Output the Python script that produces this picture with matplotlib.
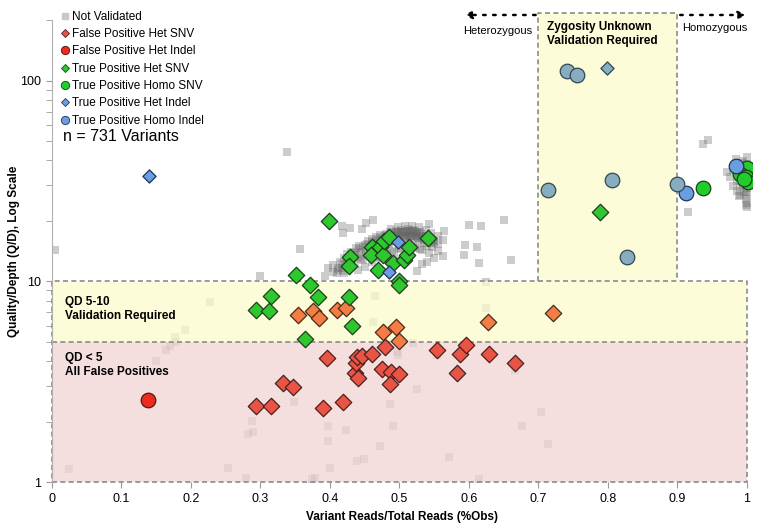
import matplotlib
matplotlib.use("Agg")
import matplotlib.pyplot as plt
from matplotlib.lines import Line2D
from matplotlib.ticker import FixedLocator, NullFormatter

plt.rcParams['font.family'] = ['Liberation Sans', 'DejaVu Sans']

# Not validated (isolated points)
gray_x = [0.004, 0.025, 0.149, 0.164, 0.17, 0.177, 0.178, 0.192, 0.228, 0.253, 0.279, 0.282, 0.289, 0.288,
          0.299, 0.338, 0.348, 0.357, 0.374, 0.378, 0.393, 0.397, 0.397, 0.397, 0.4, 0.404, 0.412, 0.419,
          0.423, 0.439, 0.449, 0.462, 0.465, 0.472, 0.486, 0.491, 0.496, 0.498, 0.52, 0.525, 0.554, 0.571,
          0.614, 0.624, 0.624, 0.666, 0.676, 0.704, 0.714, 0.417, 0.429, 0.419, 0.446, 0.452, 0.462, 0.542,
          0.564, 0.6, 0.617, 0.65, 0.594, 0.611, 0.563, 0.593, 0.614, 0.66, 0.55, 0.532, 0.54, 0.525,
          0.915, 0.937, 0.944, 0.971, 0.98, 0.986, 0.988]
gray_y = [14.3, 1.16, 4.03, 4.57, 4.78, 5.25, 5.0, 5.7, 7.86, 1.17, 1.05, 1.74, 1.78, 2.02,
          10.6, 44.1, 2.51, 14.5, 1.04, 1.05, 10.6, 11.7, 1.9, 1.6, 1.17, 11.1, 11.7, 11.2,
          1.82, 1.27, 1.3, 6.24, 8.41, 1.51, 2.45, 1.9, 4.42, 4.3, 4.95, 2.92, 4.3, 1.33,
          1.04, 7.33, 9.9, 3.63, 1.9, 2.24, 1.55, 18.8, 18.4, 17.4, 18.2, 19.5, 20.2, 19.3,
          17.8, 19.0, 18.8, 20.2, 15.1, 14.9, 13.3, 13.5, 12.3, 12.8, 13.0, 12.2, 12.5, 11.2,
          22.2, 48.3, 50.6, 34.9, 29.8, 28.2, 26.6]

# Not validated (dense heterozygous cluster)
blob_x = [0.405, 0.41, 0.415, 0.418, 0.42, 0.422, 0.425, 0.428, 0.43, 0.432, 0.435, 0.437, 0.44, 0.442,
          0.445, 0.447, 0.45, 0.452, 0.455, 0.457, 0.46, 0.462, 0.465, 0.467, 0.47, 0.472, 0.475, 0.477,
          0.48, 0.482, 0.485, 0.487, 0.49, 0.492, 0.495, 0.497, 0.5, 0.502, 0.505, 0.507, 0.51, 0.512,
          0.515, 0.517, 0.52, 0.522, 0.525, 0.527, 0.53, 0.532, 0.535, 0.538, 0.54, 0.543, 0.547, 0.55,
          0.555, 0.46, 0.47, 0.48, 0.49, 0.5, 0.51, 0.52, 0.53, 0.45, 0.44, 0.485, 0.5, 0.515,
          0.495, 0.505, 0.515, 0.525, 0.51, 0.5, 0.52, 0.53, 0.488, 0.478, 0.468, 0.458, 0.508, 0.518,
          0.528, 0.536, 0.545, 0.498, 0.512, 0.522,
          0.412, 0.418, 0.424, 0.43, 0.436, 0.442, 0.448, 0.454, 0.46, 0.466, 0.472, 0.478, 0.484, 0.49,
          0.496, 0.502, 0.508, 0.514, 0.52, 0.526, 0.532, 0.538, 0.544, 0.55, 0.556,
          0.42, 0.428, 0.436, 0.444, 0.452, 0.46, 0.468, 0.476, 0.484, 0.492, 0.5, 0.508, 0.516, 0.524,
          0.532, 0.54, 0.548,
          0.488, 0.498, 0.508, 0.518, 0.528, 0.538, 0.546, 0.555, 0.562,
          0.472, 0.482, 0.492, 0.502, 0.512, 0.522, 0.532, 0.542]
blob_y = [12.0, 11.0, 12.5, 11.6, 13.0, 12.0, 13.6, 12.4, 14.0, 12.9, 13.5, 14.6, 13.2, 15.0,
          14.0, 12.8, 15.2, 14.2, 15.8, 13.6, 16.2, 14.8, 15.5, 16.6, 15.0, 17.0, 16.0, 14.5,
          17.2, 16.4, 15.3, 17.5, 16.6, 15.8, 17.8, 16.9, 16.0, 18.0, 17.2, 16.3, 17.6, 18.2,
          16.8, 17.4, 18.0, 16.5, 17.2, 15.8, 17.6, 16.3, 15.5, 16.9, 15.0, 16.2, 14.8, 15.6,
          14.2, 12.5, 13.2, 13.8, 14.2, 14.6, 15.2, 15.0, 14.4, 11.8, 11.4, 12.6, 12.8, 13.5,
          17.0, 17.5, 17.9, 17.3, 16.9, 17.3, 16.7, 16.8, 16.2, 15.7, 15.2, 14.8, 16.6, 17.1,
          16.4, 16.0, 15.6, 17.6, 17.0, 17.8,
          11.4, 12.2, 12.8, 13.4, 13.9, 14.4, 14.9, 15.3, 15.7, 16.1, 16.4, 16.8, 17.1, 17.3,
          17.5, 17.6, 17.7, 17.8, 17.7, 17.5, 17.2, 16.8, 16.4, 15.9, 15.3,
          11.0, 11.6, 12.2, 12.9, 13.5, 14.0, 14.5, 15.0, 15.5, 15.9, 16.3, 16.6, 16.8, 16.9,
          16.7, 16.4, 16.0,
          18.3, 18.6, 18.8, 18.9, 18.6, 18.0, 17.4, 16.8, 16.0,
          13.0, 13.6, 14.0, 14.4, 14.6, 14.6, 14.3, 13.9]

# Not validated (homozygous column)
col_x = [1.0, 1.0, 0.998, 1.0, 0.996, 1.0, 0.994, 1.0, 0.998, 0.992, 1.0, 0.996, 0.99, 1.0,
         0.995, 1.0, 0.985, 0.98, 0.975, 0.986, 0.99, 0.99, 0.999, 1.0, 0.997, 0.993, 1.0, 0.998]
col_y = [23.4, 24.5, 25.7, 26.8, 27.9, 29.0, 30.2, 31.0, 32.3, 33.5, 34.5, 35.8, 37.0, 38.2,
         39.6, 41.7, 40.5, 36.0, 33.0, 31.5, 29.5, 27.0, 28.0, 36.5, 33.8, 38.8, 30.0, 24.0]

# False positive het SNV
fp_snv_x = [0.294, 0.315, 0.332, 0.347, 0.39, 0.396, 0.419, 0.436, 0.44, 0.437, 0.439, 0.446, 0.46,
            0.475, 0.479, 0.488, 0.487, 0.5, 0.554, 0.587, 0.596, 0.583, 0.629, 0.666]
fp_snv_y = [2.38, 2.39, 3.13, 2.98, 2.35, 4.17, 2.51, 3.51, 3.3, 3.94, 4.2, 4.25, 4.36,
            3.67, 4.73, 3.55, 3.08, 3.45, 4.57, 4.36, 4.83, 3.51, 4.36, 3.94]
# False positive het SNV with QD 5-10 (shown orange)
fp_mid_x = [0.354, 0.376, 0.384, 0.41, 0.423, 0.476, 0.495, 0.5, 0.627, 0.721]
fp_mid_y = [6.83, 7.08, 6.53, 7.16, 7.33, 5.56, 5.95, 5.06, 6.24, 6.98]

# False positive het indel
fp_indel_x = [0.138]
fp_indel_y = [2.55]

# True positive het SNV
tp_snv_x = [0.294, 0.313, 0.315, 0.351, 0.371, 0.383, 0.427, 0.432, 0.364, 0.398, 0.429, 0.427, 0.46,
            0.459, 0.472, 0.476, 0.478, 0.485, 0.469, 0.491, 0.5, 0.5, 0.506, 0.511, 0.514, 0.541, 0.788]
tp_snv_y = [7.16, 7.08, 8.41, 10.7, 9.55, 8.32, 8.32, 6.02, 5.13, 20.0, 13.2, 11.9, 14.9,
            13.5, 14.9, 13.5, 15.8, 16.7, 11.4, 12.3, 10.0, 9.55, 12.7, 13.5, 14.9, 16.5, 22.2]

# True positive homo SNV
tp_homo_x = [0.937, 1.0, 0.99, 0.998, 1.001, 0.996]
tp_homo_y = [29.1, 36.6, 34.2, 33.1, 31.3, 32.4]

# True positive het indel
tp_indel_x = [0.14, 0.498, 0.485]
tp_indel_y = [33.6, 15.7, 11.1]

# True positive homo indel
tp_hindel_x = [0.912, 0.984]
tp_hindel_y = [27.5, 37.6]

# Zygosity unknown (inside the 0.7-0.9 box)
zu_circle_x = [0.741, 0.755, 0.714, 0.806, 0.827, 0.899]
zu_circle_y = [111, 106, 28.5, 32.0, 13.2, 30.5]
zu_diamond_x = [0.799]
zu_diamond_y = [115]

fig = plt.figure(figsize=(7.64, 5.28), dpi=100)
ax = fig.add_axes([0.068, 0.087, 0.916, 0.875])
ax.set_yscale('log')
ax.set_xlim(0, 1.007)
ax.set_ylim(1, 200)

# background bands
ax.fill_between([0, 1.0], 5, 10, color='#fdfccc', alpha=0.75, lw=0, zorder=2)
ax.fill_between([0, 1.0], 1, 5, color='#f1d3d4', alpha=0.75, lw=0, zorder=2)
ax.fill_between([0.7, 0.9], 10, 218, color='#fdfccc', alpha=0.75, lw=0, zorder=2, clip_on=False)
dash = dict(color='#8a8a8a', lw=1.2, ls=(0, (3, 2)), zorder=2.5, clip_on=False)
ax.plot([0, 1.0, 1.0, 0, 0], [1, 1, 10, 10, 1], **dash)
ax.plot([0, 1.0], [5, 5], **dash)
ax.plot([0.7, 0.7, 0.9, 0.9], [10, 218, 218, 10], **dash)

ax.scatter(gray_x, gray_y, marker='s', s=34, color='#666666', alpha=0.33, lw=0, zorder=1)
ax.scatter(blob_x, blob_y, marker='s', s=34, color='#666666', alpha=0.33, lw=0, zorder=1)
ax.scatter(col_x, col_y, marker='s', s=34, color='#666666', alpha=0.33, lw=0, zorder=1)

ax.scatter(fp_snv_x, fp_snv_y, marker='D', s=70, color='#ea5447', edgecolor='#4a2019', lw=0.9, zorder=4)
ax.scatter(fp_mid_x, fp_mid_y, marker='D', s=70, color='#f47d45', edgecolor='#4a2a19', lw=0.9, zorder=4)
ax.scatter(fp_indel_x, fp_indel_y, marker='o', s=110, color='#ee2a1c', edgecolor='#4a1a15', lw=0.9, zorder=4)
ax.scatter(tp_snv_x, tp_snv_y, marker='D', s=70, color='#2ec82e', edgecolor='#1b3f1b', lw=0.9, zorder=4)
ax.scatter(tp_homo_x, tp_homo_y, marker='o', s=110, color='#22cc2a', edgecolor='#1b3f1b', lw=0.9, zorder=4)
ax.scatter(tp_indel_x, tp_indel_y, marker='D', s=45, color='#6a9ee0', edgecolor='#22344f', lw=0.9, zorder=4)
ax.scatter(tp_hindel_x, tp_hindel_y, marker='o', s=110, color='#6a9ee0', edgecolor='#22344f', lw=0.9, zorder=4)
ax.scatter(zu_circle_x, zu_circle_y, marker='o', s=110, color='#86adc0', edgecolor='#33474f', lw=0.9, zorder=4)
ax.scatter(zu_diamond_x, zu_diamond_y, marker='D', s=45, color='#86adc0', edgecolor='#33474f', lw=0.9, zorder=4)

# axes styling
for s in ['top', 'right']:
    ax.spines[s].set_visible(False)
ax.spines['left'].set_color('#b0b0b0')
ax.spines['bottom'].set_visible(False)
ax.set_xticks([0, 0.1, 0.2, 0.3, 0.4, 0.5, 0.6, 0.7, 0.8, 0.9, 1.0])
ax.set_xticklabels(['0', '0.1', '0.2', '0.3', '0.4', '0.5', '0.6', '0.7', '0.8', '0.9', '1'])
ax.set_yticks([1, 10, 100])
ax.set_yticklabels(['1', '10', '100'])
ax.yaxis.set_minor_locator(FixedLocator([2, 3, 4, 5, 6, 7, 8, 9, 20, 30, 40, 50, 60, 70, 80, 90, 200]))
ax.yaxis.set_minor_formatter(NullFormatter())
ax.tick_params(axis='both', labelsize=9, color='#9a9a9a', length=4, pad=4)
ax.tick_params(axis='y', which='minor', color='#9a9a9a', length=4)
ax.set_xlabel('Variant Reads/Total Reads (%Obs)', fontsize=8.5, fontweight='bold', labelpad=4)
ax.set_ylabel('Quality/Depth (Q/D), Log Scale', fontsize=8.5, fontweight='bold', labelpad=0)

# annotations
ax.text(0.019, 7.3, 'QD 5-10\nValidation Required', fontsize=8.5, fontweight='bold',
        va='center', ha='left', linespacing=1.25, zorder=5)
ax.text(0.019, 3.84, 'QD < 5\nAll False Positives', fontsize=8.5, fontweight='bold',
        va='center', ha='left', linespacing=1.25, zorder=5)
ax.text(0.712, 170, 'Zygosity Unknown\nValidation Required', fontsize=8.5, fontweight='bold',
        va='center', ha='left', linespacing=1.25, zorder=5)
arrow_style = dict(arrowstyle='-|>', ls=(0, (1, 3)), lw=1.8, color='black', mutation_scale=11)
ax.annotate('', xy=(0.589, 212), xytext=(0.7, 212), xycoords='data',
            arrowprops=arrow_style, annotation_clip=False)
ax.annotate('', xy=(1.003, 212), xytext=(0.9, 212), xycoords='data',
            arrowprops=arrow_style, annotation_clip=False)
ax.text(0.591, 176, 'Heterozygous', fontsize=8, va='center', ha='left')
ax.text(0.907, 182, 'Homozygous', fontsize=8, va='center', ha='left')

handles = [
    Line2D([], [], ls='', marker='s', ms=5, color='#c8c8c8'),
    Line2D([], [], ls='', marker='D', ms=4.5, mfc='#ea5447', mec='#4a2019', mew=0.6),
    Line2D([], [], ls='', marker='o', ms=6, mfc='#ee2a1c', mec='#4a1a15', mew=0.6),
    Line2D([], [], ls='', marker='D', ms=4.5, mfc='#2ec82e', mec='#1b3f1b', mew=0.6),
    Line2D([], [], ls='', marker='o', ms=6, mfc='#22cc2a', mec='#1b3f1b', mew=0.6),
    Line2D([], [], ls='', marker='D', ms=4.5, mfc='#6a9ee0', mec='#22344f', mew=0.6),
    Line2D([], [], ls='', marker='o', ms=6, mfc='#6a9ee0', mec='#22344f', mew=0.6),
]
labels = ['Not Validated', 'False Positive Het SNV', 'False Positive Het Indel', 'True Positive Het SNV',
          'True Positive Homo SNV', 'True Positive Het Indel', 'True Positive Homo Indel']
fig.legend(handles, labels, loc='upper left', bbox_to_anchor=(0.077, 0.984), frameon=False,
           fontsize=8.5, handlelength=0.6, handletextpad=0.3, labelspacing=0.45, borderpad=0.2,
           borderaxespad=0)
fig.text(0.083, 0.742, 'n = 731 Variants', fontsize=11.5, va='center', ha='left')

fig.savefig('out.png', dpi=100)
